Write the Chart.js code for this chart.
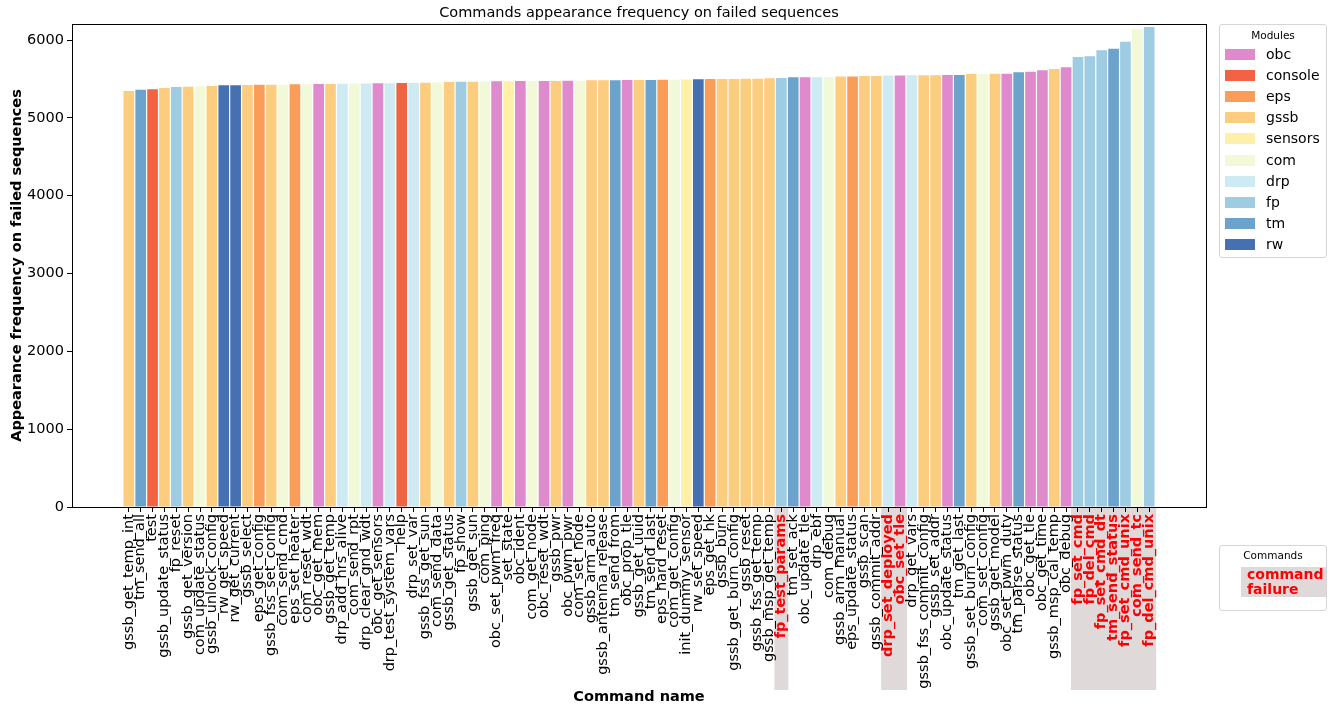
<!DOCTYPE html>
<html>
<head>
<meta charset="utf-8">
<title>Commands appearance frequency on failed sequences</title>
<script src="https://cdn.jsdelivr.net/npm/chart.js@4.4.1/dist/chart.umd.min.js"></script>
<style>
  html, body { margin: 0; padding: 0; background: #fff; }
  #wrap { position: relative; width: 1337px; height: 706px; font-family: 'DejaVu Sans', sans-serif; color: #000; }
  #chart { position: absolute; left: 0; top: 0; }
  .legend { position: absolute; background: #fff; border: 1px solid #d6d6d6; border-radius: 3px; box-sizing: border-box; }
  .legend .ttl { position: absolute; left: 0; right: 0; text-align: center; font-size: 10.5px; line-height: 12px; }
  .legend .patch { position: absolute; width: 30px; height: 11px; }
  .legend .lbl { position: absolute; font-size: 14px; line-height: 16px; white-space: nowrap; }
  .fail-box { position: absolute; background: #e0d9da; }
  .fail-txt { position: absolute; color: #ff0000; font-weight: bold; font-size: 14px; line-height: 15px; }
</style>
</head>
<body>
<div id="wrap">
  <canvas id="chart" width="1337" height="706"></canvas>
  <div class="legend" id="modLegend" style="left:1219px; top:24px; width:108px; height:234px;"></div>
  <div class="legend" id="cmdLegend" style="left:1219px; top:545px; width:108px; height:66px;"></div>
</div>
<script>
// Commands ordered by how often they appear in failed sequences
const commands = [
  'gssb_get_temp_int', 'tm_send_all', 'test', 'gssb_update_status', 'fp_reset',
  'gssb_get_version', 'com_update_status', 'gssb_unlock_config', 'rw_get_speed', 'rw_get_current',
  'gssb_select', 'eps_get_config', 'gssb_fss_set_config', 'com_send_cmd', 'eps_set_heater',
  'com_reset_wdt', 'obc_get_mem', 'gssb_get_temp', 'drp_add_hrs_alive', 'com_send_rpt',
  'drp_clear_gnd_wdt', 'obc_get_sensors', 'drp_test_system_vars', 'help', 'drp_set_var',
  'gssb_fss_get_sun', 'com_send_data', 'gssb_get_status', 'fp_show', 'gssb_get_sun',
  'com_ping', 'obc_set_pwm_freq', 'set_state', 'obc_ident', 'com_get_node',
  'obc_reset_wdt', 'gssb_pwr', 'obc_pwm_pwr', 'com_set_node', 'gssb_arm_auto',
  'gssb_antenna_release', 'tm_send_from', 'obc_prop_tle', 'gssb_get_uuid', 'tm_send_last',
  'eps_hard_reset', 'com_get_config', 'init_dummy_sensor', 'rw_set_speed', 'eps_get_hk',
  'gssb_burn', 'gssb_get_burn_config', 'gssb_reset', 'gssb_fss_get_temp', 'gssb_msp_get_temp',
  'fp_test_params', 'tm_set_ack', 'obc_update_tle', 'drp_ebf', 'com_debug',
  'gssb_arm_manual', 'eps_update_status', 'gssb_scan', 'gssb_commit_addr', 'drp_set_deployed',
  'obc_set_tle', 'drp_get_vars', 'gssb_fss_commit_config', 'gssb_set_addr', 'obc_update_status',
  'tm_get_last', 'gssb_set_burn_config', 'com_set_config', 'gssb_get_model', 'obc_set_pwm_duty',
  'tm_parse_status', 'obc_get_tle', 'obc_get_time', 'gssb_msp_cal_temp', 'obc_debug',
  'fp_set_cmd', 'fp_del_cmd', 'fp_set_cmd_dt', 'tm_send_status', 'fp_set_cmd_unix',
  'com_send_tc', 'fp_del_cmd_unix'
];

// Module each command belongs to
const commandModules = [
  'gssb', 'tm', 'console', 'gssb', 'fp',
  'gssb', 'com', 'gssb', 'rw', 'rw',
  'gssb', 'eps', 'gssb', 'com', 'eps',
  'com', 'obc', 'gssb', 'drp', 'com',
  'drp', 'obc', 'drp', 'console', 'drp',
  'gssb', 'com', 'gssb', 'fp', 'gssb',
  'com', 'obc', 'sensors', 'obc', 'com',
  'obc', 'gssb', 'obc', 'com', 'gssb',
  'gssb', 'tm', 'obc', 'gssb', 'tm',
  'eps', 'com', 'sensors', 'rw', 'eps',
  'gssb', 'gssb', 'gssb', 'gssb', 'gssb',
  'fp', 'tm', 'obc', 'drp', 'com',
  'gssb', 'eps', 'gssb', 'gssb', 'drp',
  'obc', 'drp', 'gssb', 'gssb', 'obc',
  'tm', 'gssb', 'com', 'gssb', 'obc',
  'tm', 'obc', 'obc', 'gssb', 'obc',
  'fp', 'fp', 'fp', 'tm', 'fp',
  'com', 'fp'
];

// Appearance frequency on failed sequences
const frequency = [
  5345, 5362, 5367, 5384, 5396,
  5400, 5405, 5409, 5418, 5418,
  5422, 5426, 5426, 5427, 5431,
  5431, 5435, 5435, 5439, 5440,
  5440, 5444, 5444, 5448, 5448,
  5452, 5457, 5461, 5465, 5465,
  5466, 5470, 5470, 5474, 5474,
  5475, 5475, 5476, 5476, 5482,
  5482, 5483, 5487, 5487, 5488,
  5491, 5491, 5492, 5496, 5500,
  5500, 5500, 5501, 5501, 5509,
  5513, 5522, 5522, 5523, 5526,
  5530, 5531, 5539, 5539, 5543,
  5543, 5547, 5548, 5548, 5551,
  5552, 5564, 5564, 5568, 5568,
  5585, 5593, 5611, 5628, 5650,
  5782, 5791, 5868, 5888, 5979,
  6146, 6167
];

// Commands that caused the failure
const failedCommands = [
  'fp_test_params', 'drp_set_deployed', 'obc_set_tle', 'fp_set_cmd', 'fp_del_cmd',
  'fp_set_cmd_dt', 'tm_send_status', 'fp_set_cmd_unix', 'com_send_tc', 'fp_del_cmd_unix'
];

const moduleNames  = ['obc', 'console', 'eps', 'gssb', 'sensors', 'com', 'drp', 'fp', 'tm', 'rw'];
const moduleColors = ['#de8acc', '#f06444', '#fa9d58', '#fdcd7f', '#fff0a8', '#f2f9d8', '#ceeaf2', '#9ecce2', '#6ba3cc', '#4570b2'];

const yTicks = [0, 1000, 2000, 3000, 4000, 5000, 6000];

const FONT = "'DejaVu Sans', sans-serif";
const FS = 14.5;
const HIGHLIGHT = '#e0d9da';
const isFailed = i => failedCommands.includes(commands[i]);
const barColors = commandModules.map(m => moduleColors[moduleNames.indexOf(m)]);

// grey band behind the labels of failing commands
const labelHighlight = {
  id: 'labelHighlight',
  beforeDraw(chart) {
    const { ctx, chartArea: a, scales: { x } } = chart;
    ctx.save();
    ctx.fillStyle = HIGHLIGHT;
    commands.forEach((c, i) => {
      if (!isFailed(i)) return;
      const px = x.getPixelForValue(i);
      ctx.fillRect(px - 7, a.bottom, 14, 690 - a.bottom);
    });
    ctx.restore();
  }
};

// box around the plotting area
const plotFrame = {
  id: 'plotFrame',
  afterDatasetsDraw(chart) {
    const { ctx, chartArea: a } = chart;
    ctx.save();
    ctx.strokeStyle = '#000';
    ctx.lineWidth = 1;
    ctx.strokeRect(Math.round(a.left) + 0.5, Math.round(a.top) + 0.5,
                   Math.round(a.right - a.left), Math.round(a.bottom - a.top));
    ctx.restore();
  }
};

// heading centred over the plotting area
const plotTitle = {
  id: 'plotTitle',
  afterDraw(chart) {
    const { ctx, chartArea: a } = chart;
    ctx.save();
    ctx.font = FS + 'px ' + FONT;
    ctx.fillStyle = '#000';
    ctx.textAlign = 'center';
    ctx.textBaseline = 'middle';
    ctx.fillText('Commands appearance frequency on failed sequences', (a.left + a.right) / 2, 13);
    ctx.restore();
  }
};

new Chart(document.getElementById('chart'), {
  type: 'bar',
  data: {
    datasets: [{
      data: commands.map((c, i) => ({ x: i, y: frequency[i] })),
      backgroundColor: barColors,
      borderWidth: 0,
      barPercentage: 0.9,
      categoryPercentage: 1.0
    }]
  },
  options: {
    responsive: false,
    animation: false,
    devicePixelRatio: 1,
    layout: { padding: { left: 0, right: 131, top: 24, bottom: 0 } },
    plugins: { legend: { display: false }, tooltip: { enabled: false }, title: { display: false } },
    scales: {
      x: {
        type: 'linear',
        min: -4.79,
        max: 90.79,
        offset: false,
        afterBuildTicks: s => { s.ticks = commands.map((c, i) => ({ value: i })); },
        afterFit: s => { s.height = 199; s.paddingLeft = 0; s.paddingRight = 0; },
        grid: { display: true, offset: false, drawOnChartArea: false, drawTicks: true, tickLength: 5, color: '#000', lineWidth: 1 },
        border: { display: false },
        ticks: {
          autoSkip: false,
          minRotation: 90,
          maxRotation: 90,
          padding: 2,
          color: c => isFailed(c.index) ? '#ff0000' : '#000',
          font: c => ({ family: FONT, size: FS, weight: isFailed(c.index) ? 'bold' : 'normal' }),
          callback: (v, i) => commands[i]
        },
        title: {
          display: true, text: 'Command name', color: '#000',
          font: { family: FONT, size: FS, weight: 'bold' },
          padding: { top: 0, bottom: 0 }
        }
      },
      y: {
        min: 0,
        max: 6206,
        afterBuildTicks: s => { s.ticks = yTicks.map(v => ({ value: v })); },
        afterFit: s => { s.width = 72; },
        grid: { display: true, drawOnChartArea: false, drawTicks: true, tickLength: 5, color: '#000', lineWidth: 1 },
        border: { display: false },
        ticks: { padding: 3, color: '#000', font: { family: FONT, size: FS }, callback: v => String(v) },
        title: {
          display: true, text: 'Appearance frequency on failed sequences', color: '#000',
          font: { family: FONT, size: FS, weight: 'bold' },
          padding: { top: 9, bottom: 0 }
        }
      }
    }
  },
  plugins: [labelHighlight, plotFrame, plotTitle]
});

// Modules legend
const modLegend = document.getElementById('modLegend');
modLegend.innerHTML = '<div class="ttl" style="top:4px;">Modules</div>' +
  moduleNames.map((m, i) => {
    const cy = 29.5 + i * 21.1;
    return `<div class="patch" style="left:5px; top:${(cy - 5.5).toFixed(1)}px; background:${moduleColors[i]};"></div>` +
           `<div class="lbl" style="left:46px; top:${(cy - 8.5).toFixed(1)}px;">${m}</div>`;
  }).join('');

// Commands legend
const cmdLegend = document.getElementById('cmdLegend');
cmdLegend.innerHTML = '<div class="ttl" style="top:3px;">Commands</div>' +
  '<div class="fail-box" style="left:21px; top:21px; width:85px; height:30px;"></div>' +
  '<div class="fail-txt" style="left:27px; top:21px;">command<br>failure</div>';
</script>
</body>
</html>
